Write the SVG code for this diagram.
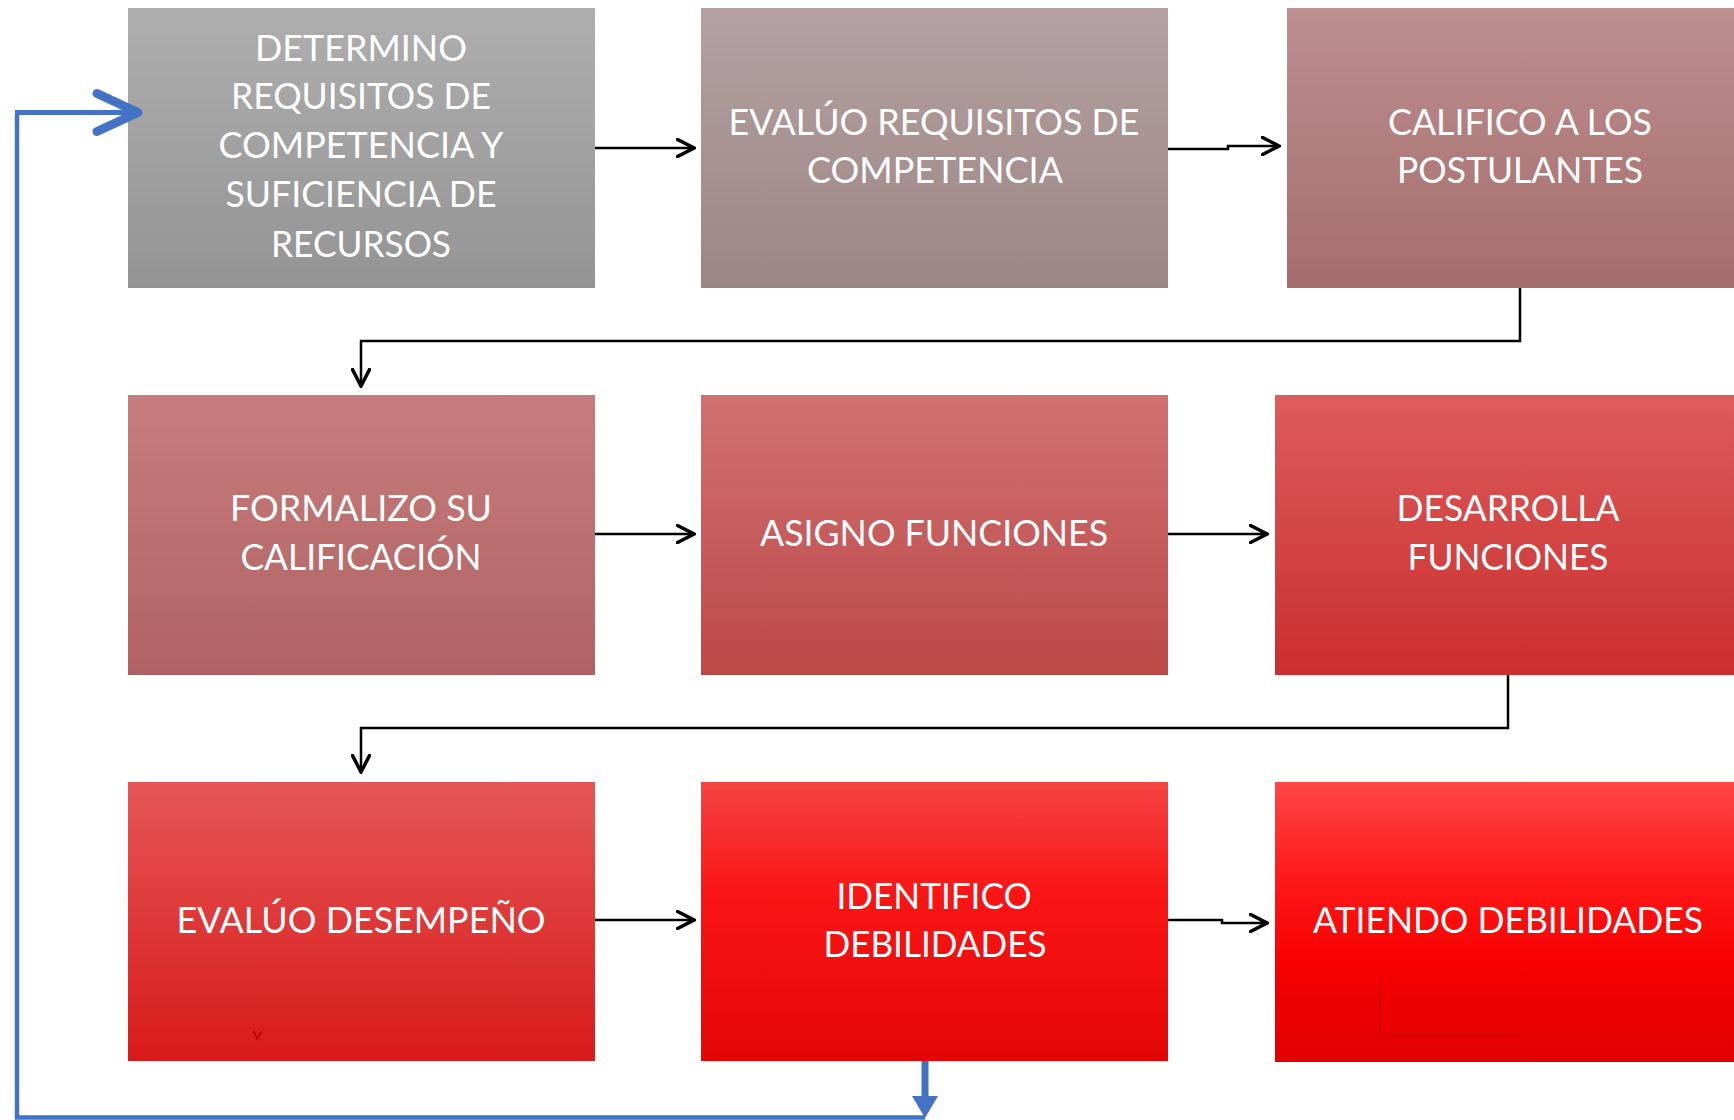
<svg xmlns="http://www.w3.org/2000/svg" width="1734" height="1120" viewBox="0 0 1734 1120">
<defs>
<linearGradient id="g1" x1="0" y1="0" x2="0" y2="1"><stop offset="0" stop-color="#aeaeae"/><stop offset="1" stop-color="#949494"/></linearGradient>
<linearGradient id="g2" x1="0" y1="0" x2="0" y2="1"><stop offset="0" stop-color="#b5a1a1"/><stop offset="1" stop-color="#9c8585"/></linearGradient>
<linearGradient id="g3" x1="0" y1="0" x2="0" y2="1"><stop offset="0" stop-color="#bd8f8f"/><stop offset="1" stop-color="#a56d6d"/></linearGradient>
<linearGradient id="g4" x1="0" y1="0" x2="0" y2="1"><stop offset="0" stop-color="#c77d7d"/><stop offset="1" stop-color="#b06262"/></linearGradient>
<linearGradient id="g5" x1="0" y1="0" x2="0" y2="1"><stop offset="0" stop-color="#d07171"/><stop offset="1" stop-color="#bd4848"/></linearGradient>
<linearGradient id="g6" x1="0" y1="0" x2="0" y2="1"><stop offset="0" stop-color="#dd5c5c"/><stop offset="1" stop-color="#cb2e2e"/></linearGradient>
<linearGradient id="g7" x1="0" y1="0" x2="0" y2="1"><stop offset="0" stop-color="#e65656"/><stop offset="1" stop-color="#d81a1a"/></linearGradient>
<linearGradient id="g8" x1="0" y1="0" x2="0" y2="1"><stop offset="0" stop-color="#f54444"/><stop offset="0.4" stop-color="#fa1515"/><stop offset="1" stop-color="#e40606"/></linearGradient>
<linearGradient id="g9" x1="0" y1="0" x2="0" y2="1"><stop offset="0" stop-color="#ff4747"/><stop offset="0.35" stop-color="#ff1818"/><stop offset="0.65" stop-color="#f70000"/><stop offset="1" stop-color="#e20000"/></linearGradient>
<marker id="ah" viewBox="0 0 20 20" refX="18" refY="10" markerWidth="20" markerHeight="20" markerUnits="userSpaceOnUse" orient="auto">
<path d="M1.5,1.5 L18,10 L1.5,18.5" fill="none" stroke="#000" stroke-width="3.5" stroke-linecap="round"/>
</marker>
<marker id="bh" viewBox="0 0 54 50" refX="47" refY="25" markerWidth="54" markerHeight="50" markerUnits="userSpaceOnUse" orient="auto">
<path d="M6,6 L47,25 L6,44" fill="none" stroke="#4472c4" stroke-width="9" stroke-linecap="round" stroke-linejoin="round"/>
</marker>
</defs>
<style>
.t{font-family:Lato,"Open Sans","Noto Sans",sans-serif;font-size:36px;fill:#fff;text-anchor:middle}
.c{fill:none;stroke:#000;stroke-width:2.5;marker-end:url(#ah)}
</style>
<g id="n1"><rect x="128" y="8" width="467" height="280" fill="url(#g1)"/>
<text class="t" x="361" y="61" textLength="212" lengthAdjust="spacingAndGlyphs">DETERMINO</text>
<text class="t" x="361" y="109" textLength="260" lengthAdjust="spacingAndGlyphs">REQUISITOS DE</text>
<text class="t" x="361" y="158" textLength="285" lengthAdjust="spacingAndGlyphs">COMPETENCIA Y</text>
<text class="t" x="361" y="207" textLength="271" lengthAdjust="spacingAndGlyphs">SUFICIENCIA DE</text>
<text class="t" x="361" y="257" textLength="180" lengthAdjust="spacingAndGlyphs">RECURSOS</text></g>
<g id="n2"><rect x="701" y="8" width="467" height="280" fill="url(#g2)"/>
<text class="t" x="934" y="135" textLength="411" lengthAdjust="spacingAndGlyphs">EVALÚO REQUISITOS DE</text>
<text class="t" x="935" y="183" textLength="256" lengthAdjust="spacingAndGlyphs">COMPETENCIA</text></g>
<g id="n3"><rect x="1287" y="8" width="460" height="280" fill="url(#g3)"/>
<text class="t" x="1520" y="135" textLength="264" lengthAdjust="spacingAndGlyphs">CALIFICO A LOS</text>
<text class="t" x="1520" y="183" textLength="246" lengthAdjust="spacingAndGlyphs">POSTULANTES</text></g>
<g id="n4"><rect x="128" y="395" width="467" height="280" fill="url(#g4)"/>
<text class="t" x="361" y="521" textLength="262" lengthAdjust="spacingAndGlyphs">FORMALIZO SU</text>
<text class="t" x="361" y="570" textLength="241" lengthAdjust="spacingAndGlyphs">CALIFICACIÓN</text></g>
<g id="n5"><rect x="701" y="395" width="467" height="280" fill="url(#g5)"/>
<text class="t" x="934" y="546" textLength="348" lengthAdjust="spacingAndGlyphs">ASIGNO FUNCIONES</text></g>
<g id="n6"><rect x="1275" y="395" width="470" height="280" fill="url(#g6)"/>
<text class="t" x="1508" y="521" textLength="223" lengthAdjust="spacingAndGlyphs">DESARROLLA</text>
<text class="t" x="1508" y="570" textLength="201" lengthAdjust="spacingAndGlyphs">FUNCIONES</text></g>
<g id="n7"><rect x="128" y="782" width="467" height="279" fill="url(#g7)"/>
<text class="t" x="361" y="933" textLength="369" lengthAdjust="spacingAndGlyphs">EVALÚO DESEMPEÑO</text>
<polyline points="253.5,1031 257.5,1039 261.5,1031" fill="none" stroke="#b80808" stroke-width="1.8"/></g>
<g id="n8"><rect x="701" y="782" width="467" height="279" fill="url(#g8)"/>
<text class="t" x="934" y="909" textLength="195" lengthAdjust="spacingAndGlyphs">IDENTIFICO</text>
<text class="t" x="935" y="957" textLength="223" lengthAdjust="spacingAndGlyphs">DEBILIDADES</text></g>
<g id="n9"><rect x="1275" y="782" width="470" height="280" fill="url(#g9)"/>
<text class="t" x="1508" y="933" textLength="390" lengthAdjust="spacingAndGlyphs">ATIENDO DEBILIDADES</text>
<polyline points="1380,981 1380,1035 1521,1035" fill="none" stroke="#cc0000" stroke-width="1.5"/></g>
<g id="connectors">
<polyline class="c" points="595,148 694,148"/>
<polyline class="c" points="1168,149 1228,149 1228,146 1279,146"/>
<polyline class="c" points="1520,288 1520,341 361,341 361,386"/>
<polyline class="c" points="595,534 694,534"/>
<polyline class="c" points="1168,534 1267,534"/>
<polyline class="c" points="1508,675 1508,728 361,728 361,772"/>
<polyline class="c" points="595,920 694,920"/>
<polyline class="c" points="1168,920 1222,920 1222,923 1267,923"/>
<line x1="925" y1="1061" x2="925" y2="1097" stroke="#4472c4" stroke-width="7"/>
<polygon points="912,1096 938,1096 925,1118" fill="#4472c4"/>
<polyline points="925,1117.5 17,1117.5 17,114" fill="none" stroke="#4472c4" stroke-width="4.5"/>
<polyline points="15,112.5 138,112.5" fill="none" stroke="#4472c4" stroke-width="5" marker-end="url(#bh)"/>
</g>
</svg>
